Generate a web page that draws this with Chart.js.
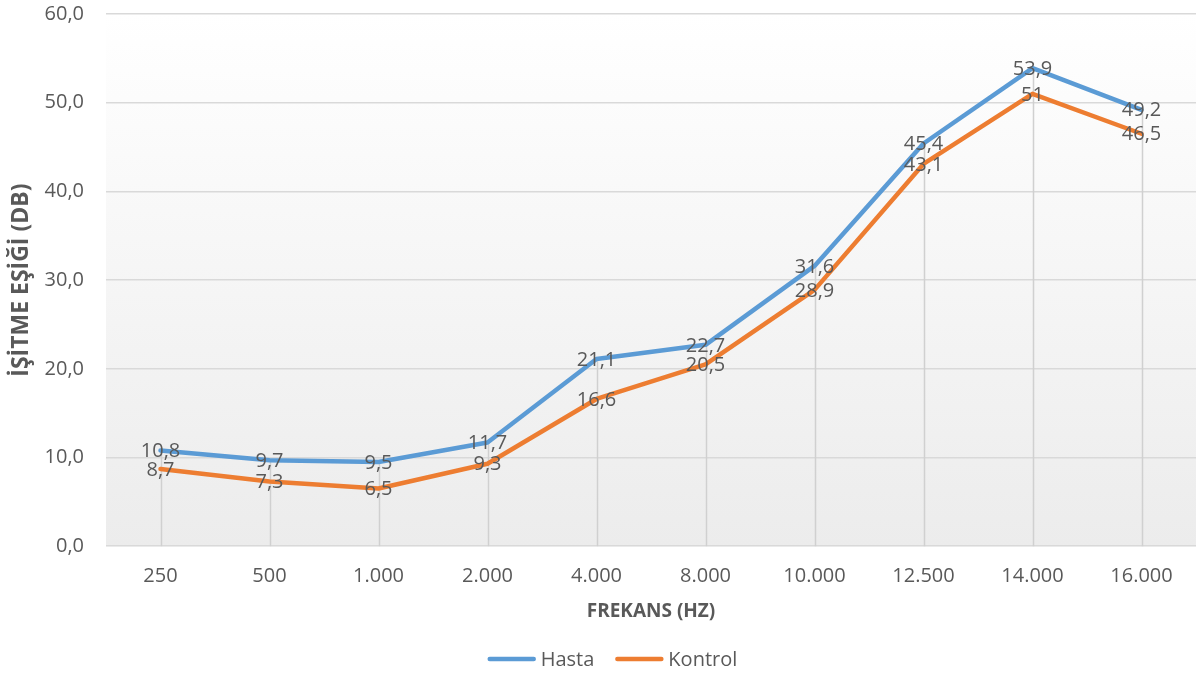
<!DOCTYPE html>
<html lang="tr">
<head>
<meta charset="utf-8">
<script src="https://cdn.jsdelivr.net/npm/chart.js@4/dist/chart.umd.min.js"></script>
<style>
  html, body { margin: 0; padding: 0; background: #ffffff; }
  #wrap { width: 1197px; height: 675px; position: relative; }
</style>
</head>
<body>
<div id="wrap"><canvas id="c" width="1197" height="675"></canvas></div>
<script>
// Frequencies (Hz) and hearing thresholds (dB) per group
const frequencies = ['250', '500', '1.000', '2.000', '4.000', '8.000', '10.000', '12.500', '14.000', '16.000'];
const hasta   = [10.8, 9.7, 9.5, 11.7, 21.1, 22.7, 31.6, 45.4, 53.9, 49.2];
const kontrol = [8.7, 7.3, 6.5, 9.3, 16.6, 20.5, 28.9, 43.1, 51, 46.5];
const yTicks  = [0, 10, 20, 30, 40, 50, 60];

const TEXT = '#595959';
const FONT = "'Open Sans', sans-serif";

// Turkish decimal comma
const fmtLabel = v => String(v).replace('.', ',');
const fmtTick  = v => v.toFixed(1).replace('.', ',');

// Plot-area fill: white at the top fading to light grey at the base
const plotBackground = {
  id: 'plotBackground',
  beforeDraw(chart) {
    const { ctx, chartArea: a } = chart;
    const g = ctx.createLinearGradient(0, a.top, 0, a.bottom);
    g.addColorStop(0, '#ffffff');
    g.addColorStop(1, '#ececec');
    ctx.save();
    ctx.fillStyle = g;
    ctx.fillRect(a.left, a.top, a.right - a.left, a.bottom - a.top);
    ctx.restore();
  }
};

// Drop lines from the highest point at each frequency down to the axis
const dropLines = {
  id: 'dropLines',
  beforeDatasetsDraw(chart) {
    const { ctx, scales: { x, y } } = chart;
    ctx.save();
    ctx.strokeStyle = '#d0d0d0';
    ctx.lineWidth = 1.5;
    frequencies.forEach((f, i) => {
      const top = Math.max(...chart.data.datasets.map(d => d.data[i]));
      const px = Math.round(x.getPixelForValue(i)) + 0.5;
      ctx.beginPath();
      ctx.moveTo(px, y.getPixelForValue(top));
      ctx.lineTo(px, y.getPixelForValue(0));
      ctx.stroke();
    });
    ctx.restore();
  }
};

// Value labels centred on each point
const valueLabels = {
  id: 'valueLabels',
  afterDatasetsDraw(chart) {
    const { ctx } = chart;
    ctx.save();
    ctx.font = '20px ' + FONT;
    ctx.fillStyle = TEXT;
    ctx.textAlign = 'center';
    ctx.textBaseline = 'middle';
    chart.data.datasets.forEach((ds, di) => {
      chart.getDatasetMeta(di).data.forEach((pt, i) => {
        ctx.fillText(fmtLabel(ds.data[i]), pt.x, pt.y + 1);
      });
    });
    ctx.restore();
  }
};

// Legend row under the axis title: line swatch followed by the series name
const lineLegend = {
  id: 'lineLegend',
  afterDraw(chart) {
    const { ctx } = chart;
    const swatch = 48, gapText = 5, gapItem = 21, cy = 659, shift = 14;
    ctx.save();
    ctx.font = '20px ' + FONT;
    ctx.textBaseline = 'middle';
    const items = chart.data.datasets.map(ds => ({ ds, w: swatch + gapText + ctx.measureText(ds.label).width }));
    const total = items.reduce((s, it) => s + it.w, 0) + gapItem * (items.length - 1);
    let x = (chart.width - total) / 2 + shift;
    items.forEach(({ ds, w }) => {
      ctx.strokeStyle = ds.borderColor;
      ctx.lineWidth = ds.borderWidth;
      ctx.lineCap = 'round';
      ctx.beginPath();
      ctx.moveTo(x + 2, cy);
      ctx.lineTo(x + swatch - 2, cy);
      ctx.stroke();
      ctx.fillStyle = TEXT;
      ctx.fillText(ds.label, x + swatch + gapText, cy + 1);
      x += w + gapItem;
    });
    ctx.restore();
  }
};

new Chart(document.getElementById('c'), {
  type: 'line',
  data: {
    labels: frequencies,
    datasets: [
      { label: 'Hasta', data: hasta, borderColor: '#5B9BD5', backgroundColor: '#5B9BD5',
        borderWidth: 4.5, pointRadius: 0, tension: 0, borderCapStyle: 'round', borderJoinStyle: 'round' },
      { label: 'Kontrol', data: kontrol, borderColor: '#ED7D31', backgroundColor: '#ED7D31',
        borderWidth: 4.5, pointRadius: 0, tension: 0, borderCapStyle: 'round', borderJoinStyle: 'round' }
    ]
  },
  options: {
    responsive: false,
    animation: false,
    devicePixelRatio: 1,
    layout: { padding: { left: 0, right: 1, top: 14, bottom: 52 } },
    plugins: {
      legend: { display: false },
      tooltip: { enabled: false }
    },
    scales: {
      x: {
        offset: true,
        grid: { display: false },
        border: { display: false },
        ticks: { color: TEXT, font: { family: FONT, size: 20 }, padding: 10, maxRotation: 0 },
        title: { display: true, text: 'FREKANS (HZ)', color: TEXT,
                 font: { family: FONT, size: 19, weight: 'bold' }, padding: { top: 2, bottom: 0 } }
      },
      y: {
        min: 0, max: 60,
        afterBuildTicks(axis) { axis.ticks = yTicks.map(v => ({ value: v })); },
        // fixed axis band on the left; the top label may overhang the plot area
        afterFit(axis) { axis.width = 106; axis.paddingTop = 0; axis.paddingBottom = 0; },
        grid: { color: '#d9d9d9', lineWidth: 1.5, drawTicks: false },
        border: { display: false },
        ticks: { color: TEXT, font: { family: FONT, size: 20 }, padding: 22, callback: v => fmtTick(v) },
        title: { display: true, text: 'İŞİTME EŞİĞİ (DB)', color: TEXT,
                 font: { family: FONT, size: 23, weight: 'bold' }, padding: { top: 8, bottom: 0 } }
      }
    }
  },
  plugins: [plotBackground, dropLines, valueLabels, lineLegend]
});
</script>
</body>
</html>
